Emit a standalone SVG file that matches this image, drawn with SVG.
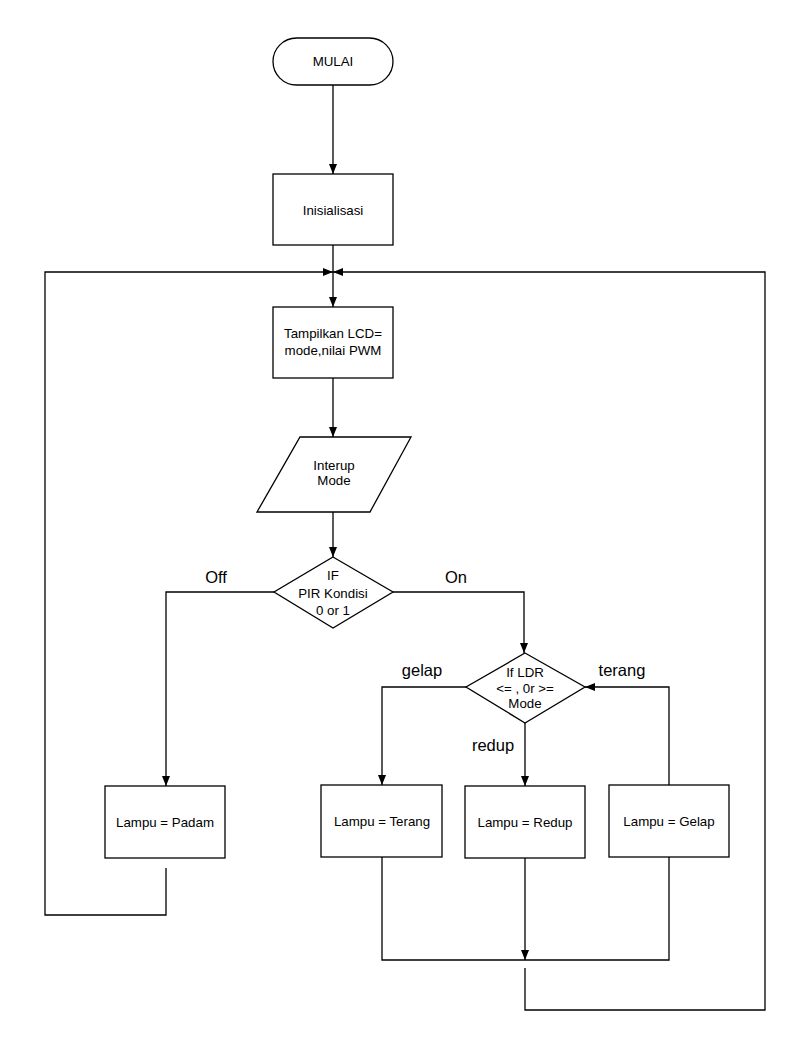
<svg xmlns="http://www.w3.org/2000/svg" width="804" height="1061" viewBox="0 0 804 1061">
<style>
.shape{fill:#fff;stroke:#000;stroke-width:1.3}
.t{font-family:"Liberation Sans",Arial,sans-serif;font-size:13.3px;fill:#000;text-anchor:middle}
.lbl{font-family:"Liberation Sans",Arial,sans-serif;font-size:16.5px;fill:#000;text-anchor:middle}
.c{fill:none;stroke:#000;stroke-width:1.3}
</style>
<defs>
<marker id="ah" markerUnits="userSpaceOnUse" markerWidth="11" markerHeight="9" refX="10" refY="4" orient="auto">
<path d="M0,0 L10,4 L0,8 z" fill="#000"/>
</marker>
</defs>
<rect width="804" height="1061" fill="#fff"/>
<g id="connectors">
<path class="c" d="M333,85 V174" marker-end="url(#ah)"/>
<path class="c" d="M333,245 V307" marker-end="url(#ah)"/>
<path class="c" d="M166,868 V915 H45 V272 H333" marker-end="url(#ah)"/>
<path class="c" d="M525,968 V1010 H765 V272 H333" marker-end="url(#ah)"/>
<path class="c" d="M333,378 V437" marker-end="url(#ah)"/>
<path class="c" d="M333,512 V557" marker-end="url(#ah)"/>
<path class="c" d="M274,592 H166 V786" marker-end="url(#ah)"/>
<path class="c" d="M393,592 H524 V653" marker-end="url(#ah)"/>
<path class="c" d="M466,687 H382 V785" marker-end="url(#ah)"/>
<path class="c" d="M525,723 V786" marker-end="url(#ah)"/>
<path class="c" d="M669,785 V687 H585" marker-end="url(#ah)"/>
<path class="c" d="M382,857 V960 H669 V857"/>
<path class="c" d="M525,858 V960" marker-end="url(#ah)"/>
<text class="lbl" x="216" y="583">Off</text>
<text class="lbl" x="456" y="583">On</text>
<text class="lbl" x="422" y="676">gelap</text>
<text class="lbl" x="622" y="676">terang</text>
<text class="lbl" x="493" y="751">redup</text>
</g>
<g id="mulai">
<rect class="shape" x="273" y="38" width="120" height="47" rx="23.5"/>
<text class="t" x="333" y="66">MULAI</text>
</g>
<g id="inisialisasi">
<rect class="shape" x="273" y="174" width="120" height="71"/>
<text class="t" x="333" y="215">Inisialisasi</text>
</g>
<g id="tampilkan">
<rect class="shape" x="273" y="307" width="120" height="71"/>
<text class="t" x="333" y="338">Tampilkan LCD=</text>
<text class="t" x="333" y="355">mode,nilai PWM</text>
</g>
<g id="interup">
<path class="shape" d="M300,437 H411 L370,512 H257 Z"/>
<text class="t" x="334" y="470">Interup</text>
<text class="t" x="334" y="485">Mode</text>
</g>
<g id="pir">
<path class="shape" d="M333,557 L393,592 L333,628 L274,592 Z"/>
<text class="t" x="333" y="580">IF</text>
<text class="t" x="333" y="598">PIR Kondisi</text>
<text class="t" x="333" y="615">0 or 1</text>
</g>
<g id="ldr">
<path class="shape" d="M525,653 L585,687 L525,723 L466,687 Z"/>
<text class="t" x="525" y="677">If LDR</text>
<text class="t" x="525" y="693">&lt;= , 0r &gt;=</text>
<text class="t" x="525" y="708">Mode</text>
</g>
<g id="padam">
<rect class="shape" x="105" y="786" width="120" height="72"/>
<text class="t" x="165" y="827">Lampu = Padam</text>
</g>
<g id="terang">
<rect class="shape" x="321" y="785" width="121" height="72"/>
<text class="t" x="382" y="826">Lampu = Terang</text>
</g>
<g id="redup">
<rect class="shape" x="465" y="786" width="120" height="72"/>
<text class="t" x="525" y="827">Lampu = Redup</text>
</g>
<g id="gelap">
<rect class="shape" x="609" y="785" width="120" height="72"/>
<text class="t" x="669" y="826">Lampu = Gelap</text>
</g>
</svg>
